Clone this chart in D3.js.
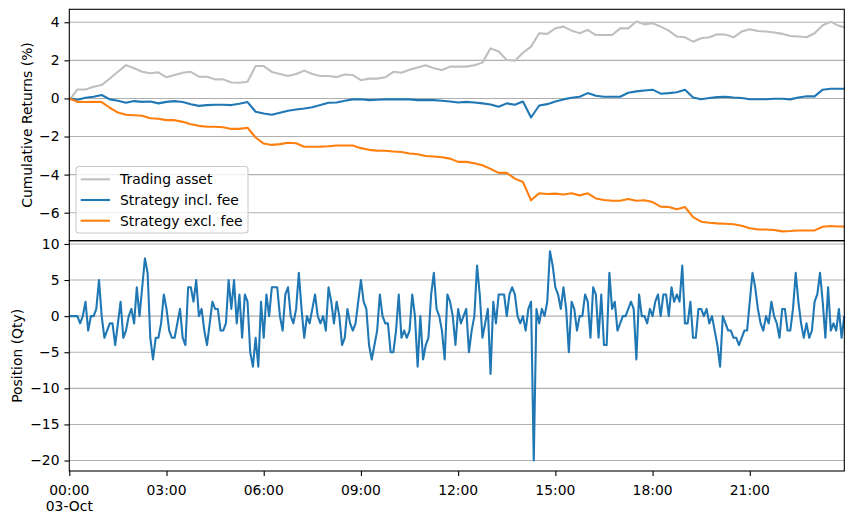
<!DOCTYPE html>
<html>
<head>
<meta charset="utf-8">
<script src="https://cdn.jsdelivr.net/npm/d3@7"></script>
<style>
    body { margin: 0; background: #ffffff; }
    svg { display: block; font-family: 'DejaVu Sans', sans-serif; }
</style>
</head>
<body>
<div id="chart"></div>
<script>
// day of the backtest, 03-Oct
const startTime = new Date(2023, 9, 3, 0, 0);

// cumulative returns (%), sampled every 15 minutes (+ last bar at 23:55)
const tradingAsset = [
    -0.10, 0.47, 0.47, 0.61, 0.70, 1.05, 1.40, 1.75, 1.58, 1.40, 1.32, 1.37, 1.11, 1.23, 1.35, 1.40,
    1.14, 1.14, 1.00, 1.00, 0.84, 0.82, 0.88, 1.70, 1.70, 1.39, 1.28, 1.18, 1.28, 1.46, 1.28, 1.18, 1.18,
    1.12, 1.26, 1.23, 0.96, 1.04, 1.04, 1.11, 1.40, 1.35, 1.51, 1.63, 1.74, 1.58, 1.49, 1.67, 1.67,
    1.67, 1.74, 1.88, 2.63, 2.46, 2.02, 1.98, 2.40, 2.72, 3.42, 3.39, 3.68, 3.77, 3.56, 3.42,
    3.60, 3.33, 3.33, 3.33, 3.68, 3.68, 4.04, 3.89, 3.95, 3.77, 3.56, 3.25, 3.21, 2.98, 3.16, 3.21,
    3.37, 3.35, 3.21, 3.51, 3.63, 3.54, 3.51, 3.46, 3.39, 3.28, 3.25, 3.21, 3.42, 3.84, 4.02, 3.81, 3.74
];
const strategyInclFee = [
    0.00, -0.07, 0.04, 0.09, 0.18, -0.05, -0.12, -0.23, -0.14, -0.18, -0.16, -0.26, -0.18, -0.14, -0.19, -0.30,
    -0.39, -0.35, -0.33, -0.33, -0.35, -0.28, -0.19, -0.70, -0.79, -0.86, -0.75, -0.65, -0.58, -0.53, -0.46, -0.35, -0.23,
    -0.21, -0.12, -0.05, -0.04, -0.09, -0.07, -0.05, -0.05, -0.05, -0.05, -0.09, -0.09, -0.09, -0.12, -0.16, -0.21,
    -0.18, -0.21, -0.26, -0.32, -0.44, -0.26, -0.33, -0.16, -1.00, -0.37, -0.30, -0.16, -0.05, 0.04, 0.09,
    0.28, 0.14, 0.09, 0.09, 0.09, 0.30, 0.37, 0.42, 0.46, 0.25, 0.28, 0.32, 0.45, 0.05, -0.04, 0.02,
    0.07, 0.09, 0.05, 0.02, -0.04, -0.04, -0.04, -0.02, -0.02, -0.05, 0.05, 0.11, 0.11, 0.46, 0.51, 0.51, 0.51
];
const strategyExclFee = [
    0.00, -0.18, -0.19, -0.18, -0.19, -0.49, -0.74, -0.86, -0.88, -0.91, -1.04, -1.07, -1.14, -1.14, -1.23, -1.35,
    -1.44, -1.49, -1.49, -1.51, -1.60, -1.60, -1.54, -2.05, -2.37, -2.44, -2.40, -2.33, -2.35, -2.54, -2.54, -2.53, -2.51,
    -2.47, -2.47, -2.47, -2.61, -2.70, -2.74, -2.75, -2.79, -2.81, -2.89, -2.93, -3.02, -3.05, -3.09, -3.16, -3.33,
    -3.33, -3.40, -3.51, -3.70, -3.91, -3.91, -4.21, -4.39, -5.35, -4.98, -5.02, -5.00, -5.04, -4.98, -5.09,
    -4.98, -5.25, -5.33, -5.37, -5.37, -5.28, -5.37, -5.35, -5.44, -5.68, -5.70, -5.82, -5.70, -6.23, -6.47, -6.53,
    -6.56, -6.58, -6.61, -6.68, -6.82, -6.88, -6.88, -6.91, -6.98, -6.96, -6.93, -6.93, -6.93, -6.74, -6.70, -6.72, -6.72
];

// position (qty), one value every 5 minutes
const position = [
    0, 0, 0, 0, -1, 0, 2, -2, 0, 0, 1, 5, 0, -3, -2, -1, -1, -4, -1, 2, -3, -2, 0, 1, -1, 4, 0, 4, 8, 6,
    -3, -6, -3, -3, -1, 3, 1, -2, -3, -3, -1, 1, -3, -4, 4, 4, 2, 5, 0, 1, -2, -4, -1, 2, 1, 1, -2, -2, -1,
    5, 1, 5, -1, 3, -3, 3, 2, -5, -7, -3, -7, 2, -3, 3, 0, 4, 4, 4, 0, -2, 3, 4, 0, -1, 1, 6, 1, -3, 0,
    -1, 1, 3, 0, -1, 0, -2, 4, 2, -1, 2, 0, -4, -3, 1, -1, -2, -1, 2, 5, 2, 1, -4, -6, -4, -2, 3,
    0, -1, -1, -5, -5, -2, 3, -3, -2, -3, -2, 3, 0, -7, 0, -6, -4, -3, 3, 6, 1, 0, -2, -6, 3, 2, 0, -4, 1, -1,
    0, 1, -5, -2, 0, 7, 3, -3, -1, 1, -8, 2, -1, 3, 3, 3, 0, 3, 4, 3, 0, -1, 0, -2, 1, 2, -20,
    1, -1, 1, 0, 2, 9, 7, 4, 3, 1, 4, 1, -5, 2, 1, -2, 0, 0, 3, 2, -3, 4, 3, -3, 3, -4, -4, 6, 1, 2,
    -2, -1, 0, 0, 1, 2, 1, -6, 3, 0, 0, -1, 1, 0, 2, 3, 0, 3, 3, 0, 4, 2, 3, 2, 7, -1, -1,
    2, -3, -3, 1, 1, 0, 1, -1, 0, -2, -4, -7, 0, -1, -2, -2, -3, -3, -4, -3, -2, -2, 2, 6, 4, 1, -1, -2, 0, -1,
    2, 0, -1, -3, 1, 1, -2, -2, 1, 6, 2, -1, -3, -1, -3, -2, 2, 3, 6, 2, -3, 4, -2, -1, -2, 1, -3, 0
];

const returnTicks = [-6, -4, -2, 0, 2, 4];
const positionTicks = [-20, -15, -10, -5, 0, 5, 10];
const seriesNames = ['Trading asset', 'Strategy incl. fee', 'Strategy excl. fee'];
const seriesColors = ['#bfbfbf', '#1f77b4', '#ff7f0e'];

const width = 853;
const height = 521;
const left = 69.3, right = 844.3;
const topPanel = { y0: 9.3, y1: 240.7 };
const bottomPanel = { y0: 240.7, y1: 471 };
const fontSize = 13.9;

const svg = d3.select('#chart').append('svg')
    .attr('width', width)
    .attr('height', height);

const minutes = m => d3.timeMinute.offset(startTime, m);
const endTime = minutes(23 * 60 + 55);

const x = d3.scaleTime()
    .domain([startTime, endTime])
    .range([left, right]);

const yRet = d3.scaleLinear()
    .domain([-7.47, 4.68])
    .range([topPanel.y1, topPanel.y0]);

const yPos = d3.scaleLinear()
    .domain([-21.45, 10.45])
    .range([bottomPanel.y1, bottomPanel.y0]);

// 15-minute returns; the last sample sits on the final 5-minute bar
const retTime = i => minutes(Math.min(i * 15, 23 * 60 + 55));
const posTime = i => minutes(i * 5);

function drawGrid(yScale, ticks) {
    svg.append('g')
        .selectAll('line')
        .data(ticks)
        .enter().append('line')
        .attr('x1', left)
        .attr('x2', right)
        .attr('y1', d => yScale(d))
        .attr('y2', d => yScale(d))
        .attr('stroke', '#b0b0b0')
        .attr('stroke-width', 1.1);
}

function drawYAxis(yScale, ticks) {
    const g = svg.append('g')
        .attr('transform', `translate(${left},0)`)
        .call(d3.axisLeft(yScale).tickValues(ticks).tickSize(4.9).tickPadding(4.9).tickFormat(d3.format('d')));
    g.select('.domain').remove();
    g.selectAll('line').attr('stroke', '#000').attr('stroke-width', 1.1);
    g.selectAll('text')
        .attr('font-size', fontSize)
        .attr('font-family', 'DejaVu Sans')
        .attr('fill', '#000');
}

function drawFrame(panel) {
    svg.append('rect')
        .attr('x', left)
        .attr('y', panel.y0)
        .attr('width', right - left)
        .attr('height', panel.y1 - panel.y0)
        .attr('fill', 'none')
        .attr('stroke', '#000')
        .attr('stroke-width', 1.1);
}

// top panel: cumulative returns
drawGrid(yRet, returnTicks);

const retLine = d3.line()
    .x((d, i) => x(retTime(i)))
    .y(d => yRet(d));

[tradingAsset, strategyInclFee, strategyExclFee].forEach((series, k) => {
    svg.append('path')
        .datum(series)
        .attr('d', retLine)
        .attr('fill', 'none')
        .attr('stroke', seriesColors[k])
        .attr('stroke-width', 2.08)
        .attr('stroke-linejoin', 'round');
});

drawYAxis(yRet, returnTicks);

// bottom panel: position
drawGrid(yPos, positionTicks);

const posLine = d3.line()
    .x((d, i) => x(posTime(i)))
    .y(d => yPos(d));

svg.append('path')
    .datum(position)
    .attr('d', posLine)
    .attr('fill', 'none')
    .attr('stroke', '#1f77b4')
    .attr('stroke-width', 2.08)
    .attr('stroke-linejoin', 'round');

drawYAxis(yPos, positionTicks);

drawFrame(topPanel);
drawFrame(bottomPanel);

// shared time axis
const timeTicks = d3.timeHour.every(3).range(startTime, endTime);
const xAxis = svg.append('g')
    .attr('transform', `translate(0,${bottomPanel.y1})`)
    .call(d3.axisBottom(x).tickValues(timeTicks).tickSize(4.9).tickPadding(4.9).tickFormat(''));
xAxis.select('.domain').remove();
xAxis.selectAll('line').attr('stroke', '#000').attr('stroke-width', 1.1);

const fmtTime = d3.timeFormat('%H:%M');
const fmtDay = d3.timeFormat('%d-%b');
const tickLabels = svg.append('g')
    .selectAll('text')
    .data(timeTicks)
    .enter().append('text')
    .attr('x', d => x(d))
    .attr('y', bottomPanel.y1 + 9.8)
    .attr('text-anchor', 'middle')
    .attr('font-size', fontSize)
    .attr('fill', '#000');
tickLabels.append('tspan')
    .attr('x', d => x(d))
    .attr('dy', '1.0em')
    .text(d => fmtTime(d));
tickLabels.filter((d, i) => i === 0)
    .append('tspan')
    .attr('x', d => x(d))
    .attr('dy', '1.2em')
    .text(d => fmtDay(d));

// axis titles
svg.append('text')
    .attr('transform', `translate(27,${(topPanel.y0 + topPanel.y1) / 2}) rotate(-90)`)
    .attr('text-anchor', 'middle')
    .attr('dominant-baseline', 'central')
    .attr('font-size', fontSize)
    .text('Cumulative Returns (%)');

svg.append('text')
    .attr('transform', `translate(17,${(bottomPanel.y0 + bottomPanel.y1) / 2}) rotate(-90)`)
    .attr('text-anchor', 'middle')
    .attr('dominant-baseline', 'central')
    .attr('font-size', fontSize)
    .text('Position (Qty)');

// legend, lower left of the top panel
const legend = svg.append('g').attr('transform', 'translate(76,166.5)');
legend.append('rect')
    .attr('width', 172)
    .attr('height', 66.5)
    .attr('rx', 3)
    .attr('fill', '#ffffff')
    .attr('fill-opacity', 0.8)
    .attr('stroke', '#cccccc')
    .attr('stroke-width', 1.1);

seriesNames.forEach((name, k) => {
    const rowY = 12.8 + k * 20.7;
    legend.append('line')
        .attr('x1', 4.7)
        .attr('x2', 34)
        .attr('y1', rowY)
        .attr('y2', rowY)
        .attr('stroke', seriesColors[k])
        .attr('stroke-width', 2.08);
    legend.append('text')
        .attr('x', 44)
        .attr('y', rowY)
        .attr('dominant-baseline', 'central')
        .attr('font-size', fontSize)
        .text(name);
});
</script>
</body>
</html>
